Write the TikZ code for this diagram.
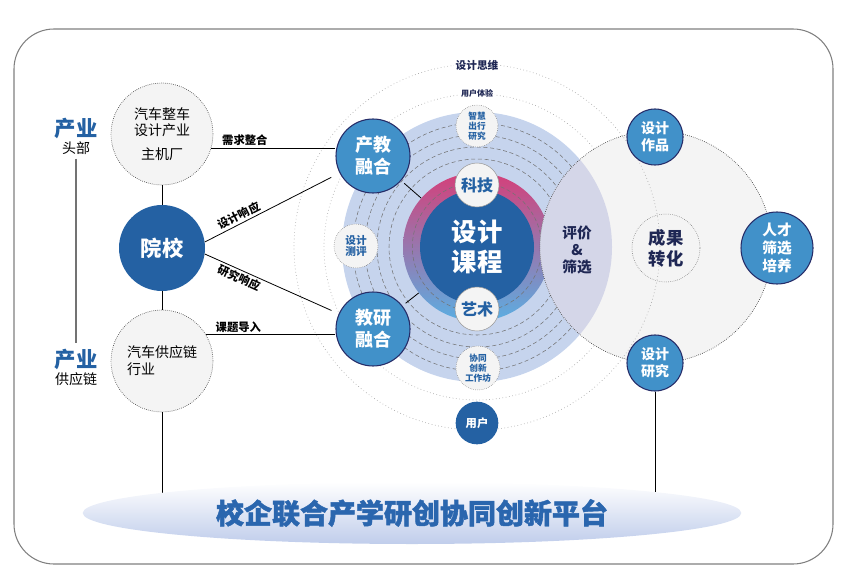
\documentclass[tikz,border=0pt]{standalone}
\usepackage{fontspec}
\setmainfont{Noto Sans CJK SC}
\newfontfamily\titlefont{Noto Sans CJK SC}[BoldFeatures={FakeBold=1.5}]
\usetikzlibrary{positioning,shapes.geometric}
\definecolor{yxblue}{HTML}{2461A3}
\definecolor{midblue}{HTML}{4191C9}
\definecolor{navy}{HTML}{262C68}
\definecolor{diskblue}{HTML}{C6D4ED}
\definecolor{lensgray}{HTML}{D4D6E8}
\definecolor{palegray}{HTML}{F4F4F4}
\definecolor{ringpink}{HTML}{D4407A}
\definecolor{ringblue}{HTML}{5BAEE2}
\definecolor{textnavy}{HTML}{1F2754}
\definecolor{titleblue}{HTML}{2A66AE}
\definecolor{platblue}{HTML}{C0CDEB}
\newcommand{\fsz}[2]{\fontsize{#1}{#2}\selectfont}

\begin{document}
\begin{tikzpicture}[x=0.75pt,y=-0.75pt,>=latex]
\tikzset{dkcirc/.style={circle,fill=yxblue,text=white,inner sep=0pt,align=center},
midcirc/.style={circle,fill=midblue,draw=navy,line width=0.8pt,text=white,inner sep=0pt,align=center},
palecirc/.style={circle,fill=palegray,draw=black!75,densely dotted,line width=0.5pt,inner sep=0pt,align=center},
smallcirc/.style={circle,fill=palegray,draw=black!55,densely dotted,inner sep=0pt,align=center,text=yxblue},
ringline/.style={densely dashed,draw=black!55,line width=0.4pt},
outring/.style={dotted,draw=black!35,line width=0.5pt},
conn/.style={draw=black,line width=0.6pt},
lbl/.style={font=\bfseries\fsz{8.5}{10},inner sep=1.5pt}}
\useasboundingbox (0,0) rectangle (853,585);
\draw[black!50,line width=0.8pt,rounded corners=30pt] (14,29) rectangle (833,564);
% rings round the course
\coordinate (o) at (477,247);
\draw[outring] (o) circle[radius=114.75pt];
\fill[diskblue] (o) circle[radius=101.25pt];
\foreach \r in {66,75,84,93} \draw[ringline] (o) circle[radius=\r pt];
\shade[top color=ringpink,bottom color=ringblue] (o) circle[radius=55.5pt];
\draw[ringline] (o) circle[radius=48.5pt];
\node[circle,minimum size=111pt,inner sep=0pt] (ring) at (o) {};
\node[dkcirc,minimum size=85.5pt,font=\bfseries\fsz{19}{22.5}] (kc) at (o) {设计\\课程};
% results circle
\fill[palegray] (656,247) circle[radius=87pt];
\begin{scope}
\clip (o) circle[radius=101.25pt];
\fill[lensgray] (656,247) circle[radius=87pt];
\end{scope}
\draw[densely dotted,black!75,line width=0.5pt] (656,247) circle[radius=87pt];
\draw[outring] (o) circle[radius=137.25pt];
\node[fill=white,inner sep=1pt,text=textnavy,font=\bfseries\fsz{8}{9}] (sjsw) at (477,65) {设计思维};
\node[fill=white,inner sep=1pt,text=textnavy,font=\bfseries\fsz{6}{7}] (yhty) at (477,93) {用户体验};
\node[smallcirc,minimum size=31.5pt,font=\bfseries\fsz{6.5}{7.5}] (zh) at (477,126) {智慧\\出行\\研究};
\node[smallcirc,minimum size=33pt,font=\bfseries\fsz{8}{8.5}] (cp) at (356,246) {设计\\测评};
\node[smallcirc,minimum size=33pt,font=\bfseries\fsz{6.5}{7.5}] (xt) at (478,368) {协同\\创新\\工作坊};
\node[dkcirc,minimum size=32pt,font=\bfseries\fsz{8.5}{10}] (yh) at (477,423) {用户};
\node[smallcirc,solid,draw=black!40,minimum size=33pt,font=\bfseries\fsz{12}{14}] (kj) at (477,185) {科技};
\node[smallcirc,solid,draw=black!40,minimum size=33pt,font=\bfseries\fsz{12}{14}] (ys) at (477,309) {艺术};
\node[midcirc,minimum size=55.5pt,font=\bfseries\fsz{13.5}{16.5}] (cj) at (373,156) {产教\\融合};
\node[midcirc,minimum size=55.5pt,font=\bfseries\fsz{13.5}{16.5}] (jy) at (373,329) {教研\\融合};
\node[text=textnavy,align=center,font=\bfseries\fsz{11}{13}] (pj) at (577,250) {评价\\\&\\筛选};
\node[circle,draw=black!60,densely dotted,minimum size=51pt,inner sep=0pt,align=center,text=textnavy,font=\bfseries\fsz{13}{15.75}] (cg) at (666,248) {成果\\转化};
\node[midcirc,minimum size=42pt,font=\bfseries\fsz{10.5}{12.75}] (zp) at (655,137) {设计\\作品};
\node[midcirc,minimum size=42pt,font=\bfseries\fsz{10.5}{12.75}] (yj) at (655,363) {设计\\研究};
\node[midcirc,minimum size=54pt,font=\bfseries\fsz{11}{13.5}] (rc) at (777,248) {人才\\筛选\\培养};
% industry side
\node[palecirc,minimum size=76.5pt,font=\fsz{10.5}{12}] (zc) at (162,134) {汽车整车\\设计产业\\[6pt]主机厂};
\node[palecirc,minimum size=76.5pt,font=\fsz{10.5}{12.75},align=left] (gyl) at (162,361) {汽车供应链\\行业};
\node[dkcirc,minimum size=64.5pt,font=\bfseries\fsz{16}{18}] (yx) at (162,248) {院校};
\node[text=yxblue,font=\bfseries\fsz{16}{18},inner sep=1pt] (cy1) at (76,128) {产业};
\node[font=\fsz{10.5}{12},inner sep=1pt] (tb) at (76,148) {头部};
\node[text=yxblue,font=\bfseries\fsz{16}{18},inner sep=1pt] (cy2) at (76,359) {产业};
\node[font=\fsz{10.5}{12},inner sep=1pt] (gy) at (76,379) {供应链};
\draw[black!55,line width=1.2pt,shorten <=2pt,shorten >=3pt] (tb) -- (cy2);
% platform
\coordinate (pfl) at (162,494);
\coordinate (pfr) at (655,494);
\draw[conn] (gyl) -- (pfl);
\draw[conn] (yj) -- (pfr);
\node[ellipse,minimum width=494pt,minimum height=46.5pt,top color=white,bottom color=platblue,text=titleblue,font=\titlefont\bfseries\fsz{21}{24}] (pf) at (412,513) {校企联合产学研创协同创新平台};
% connectors
\draw[conn] (zc) -- (yx);
\draw[conn] (yx) -- (gyl);
\draw[conn] (zc.-16) -- node[lbl,above,pos=.27]{需求整合} (cj.west|-zc.-16);
\draw[conn] (gyl.31) -- node[lbl,above,pos=.25]{课题导入} (jy.west|-gyl.31);
\draw[conn,shorten >=7pt] (yx.8) -- node[lbl,above,sloped,pos=.28]{设计响应} (cj);
\draw[conn,shorten >=6pt] (yx.-8) -- node[lbl,below,sloped,pos=.28]{研究响应} (jy);
\draw[conn,shorten <=3pt] (cj) -- (ring);
\draw[conn,shorten <=3pt] (jy) -- (ring);
\end{tikzpicture}
\end{document}
